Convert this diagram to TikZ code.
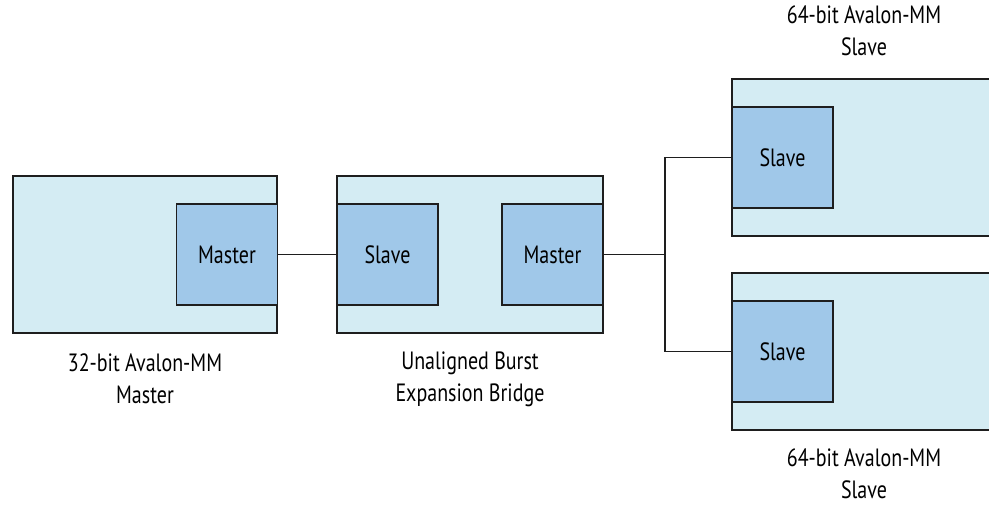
\documentclass[tikz,border=0pt]{standalone}
\usepackage{fontspec}
\setmainfont{PT Sans}[FakeStretch=0.8]
\definecolor{outerfill}{RGB}{212,236,243}
\definecolor{innerfill}{RGB}{160,200,233}
\definecolor{edge}{RGB}{30,30,30}
\begin{document}
\begin{tikzpicture}[x=1pt,y=-1pt,
  outerbox/.style={draw=edge,line width=1.4pt,fill=outerfill,rectangle,inner sep=0pt,minimum height=157pt},
  innerbox/.style={draw=edge,line width=1.4pt,fill=innerfill,rectangle,inner sep=0pt,minimum width=101pt,minimum height=101pt,font=\fontsize{25}{28}\selectfont},
  lbl/.style={align=center,inner sep=0pt,font=\fontsize{25}{32}\selectfont},
  wire/.style={draw=edge,line width=1.4pt}]
\clip (0,0) rectangle (989,504);
% outer boxes
\node[outerbox,minimum width=264pt] (mOut) at (145,254.5) {};
\node[outerbox,minimum width=266pt] (bOut) at (470,254.5) {};
\node[outerbox,minimum width=290pt] (s1Out) at (877,157.5) {};
\node[outerbox,minimum width=290pt] (s2Out) at (877,351.5) {};
% inner boxes
\node[innerbox] (mMaster) at (227,254.5) {Master};
\node[innerbox] (bSlave) at (387.5,254.5) {Slave};
\node[innerbox] (bMaster) at (552.5,254.5) {Master};
\node[innerbox] (s1Slave) at (782.5,157.5) {Slave};
\node[innerbox] (s2Slave) at (782.5,351.5) {Slave};
% connectors
\coordinate (j) at (665,254.5);
\draw[wire] (mMaster.east) -- (bSlave.west);
\draw[wire] (bMaster.east) -- (j);
\draw[wire] (s1Slave.west) -| (j) |- (s2Slave.west);
% labels
\node[lbl] (l1) at (145,379) {32-bit Avalon-MM\\Master};
\node[lbl] (l2) at (470,379) {Unaligned Burst\\Expansion Bridge};
\node[lbl] (l3) at (864,31) {64-bit Avalon-MM\\Slave};
\node[lbl] (l4) at (864,474) {64-bit Avalon-MM\\Slave};
\end{tikzpicture}
\end{document}
